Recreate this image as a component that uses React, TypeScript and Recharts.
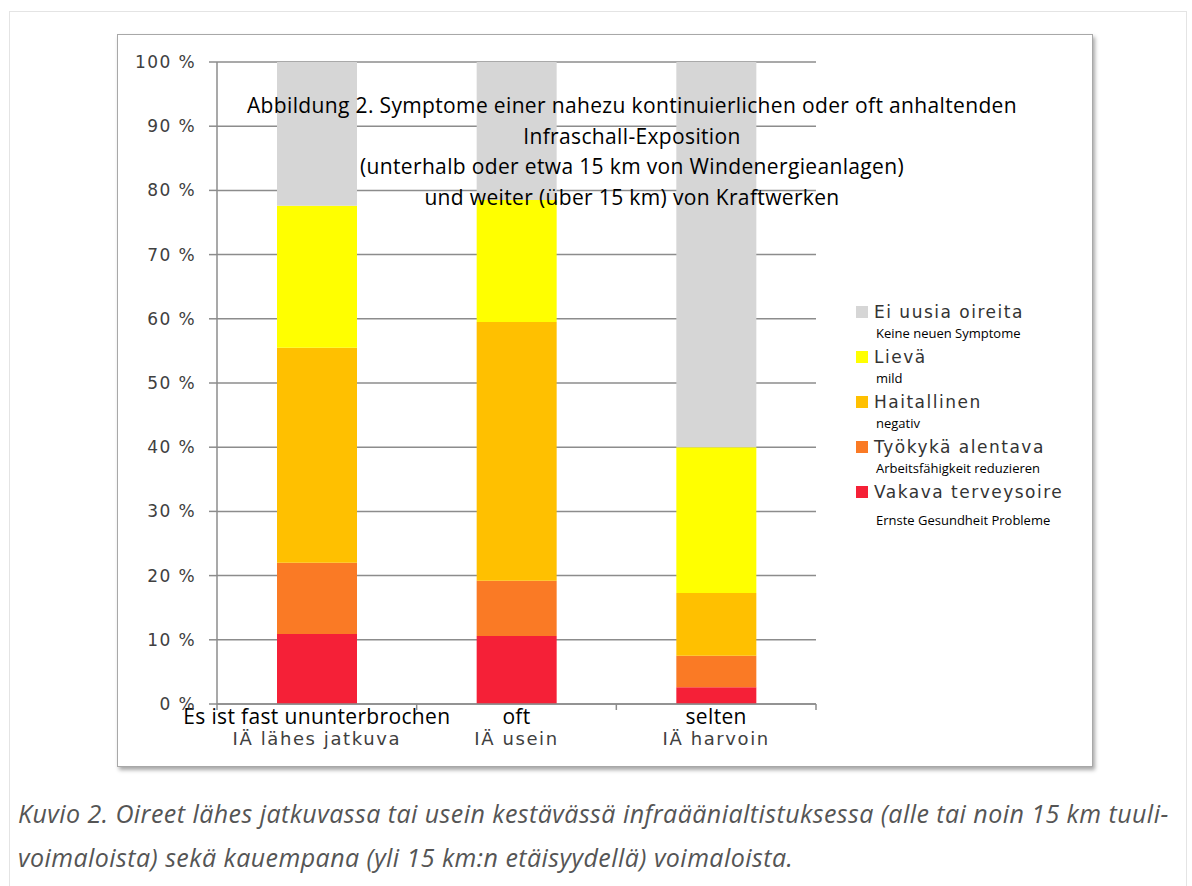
import { BarChart, Bar, XAxis, YAxis, CartesianGrid } from 'recharts';

// categories: German label (black) over the original Finnish label
const categoriesDe = ['Es ist fast ununterbrochen', 'oft', 'selten'];
const categoriesFi = ['IÄ lähes jatkuva', 'IÄ usein', 'IÄ harvoin'];

// shares in % (bottom to top of each stack)
const vakava = [10.9, 10.6, 2.6];
const tyokyky = [11.1, 8.6, 4.9];
const haitallinen = [33.5, 40.3, 9.8];
const lieva = [22.1, 19.0, 22.7];
const eiOireita = [22.4, 21.5, 60.0];

const seriesKeys = ['vakava', 'tyokyky', 'haitallinen', 'lieva', 'eiOireita'];
const seriesFi = ['Vakava terveysoire', 'Työkykä alentava', 'Haitallinen', 'Lievä', 'Ei uusia oireita'];
const seriesDe = ['Ernste Gesundheit Probleme', 'Arbeitsfähigkeit reduzieren', 'negativ', 'mild', 'Keine neuen Symptome'];
const seriesColors = ['#f52037', '#fa7a25', '#ffc000', '#ffff00', '#d6d6d6'];

const yTicks = [0, 10, 20, 30, 40, 50, 60, 70, 80, 90, 100];

const titleLines = [
   'Abbildung 2. Symptome einer nahezu kontinuierlichen oder oft anhaltenden',
   'Infraschall-Exposition',
   '(unterhalb oder etwa 15 km von Windenergieanlagen)',
   'und weiter (über 15 km) von Kraftwerken',
];

const captionLines = [
   'Kuvio 2. Oireet lähes jatkuvassa tai usein kestävässä infraäänialtistuksessa (alle tai noin 15 km tuuli-',
   'voimaloista) sekä kauempana (yli 15 km:n etäisyydellä) voimaloista.',
];

const seriesValues = [vakava, tyokyky, haitallinen, lieva, eiOireita];
const chartData = categoriesDe.map((c, i) => {
   const row: any = { name: c, fi: categoriesFi[i] };
   seriesKeys.forEach((k, s) => {
      row[k] = seriesValues[s][i];
   });
   return row;
});

const CHART_W = 974;
const CHART_H = 731;
const MARGIN = { top: 27, right: 276, bottom: 0, left: 0 };
const Y_W = 99;
const X_H = 62;
const BAND = (CHART_W - MARGIN.right - Y_W) / categoriesDe.length;

const XTick = (props: any) => {
   const { x, y, payload, index } = props;
   return (
      <g>
         <line x1={x - BAND / 2} x2={x - BAND / 2} y1={y} y2={y + 6} stroke="#8c8c8c" strokeWidth={1.5} />
         {index === categoriesDe.length - 1 && (
            <line x1={x + BAND / 2} x2={x + BAND / 2} y1={y} y2={y + 6} stroke="#8c8c8c" strokeWidth={1.5} />
         )}
         <text
            x={x}
            y={y + 20}
            textAnchor="middle"
            fontFamily="'Open Sans', sans-serif"
            fontSize={21}
            letterSpacing={0.35}
            fill="#000"
         >
            {payload.value}
         </text>
         <text
            x={x}
            y={y + 41}
            textAnchor="middle"
            fontFamily="'DejaVu Sans', sans-serif"
            fontSize={18}
            letterSpacing={1.6}
            fill="#404040"
         >
            {categoriesFi[index]}
         </text>
      </g>
   );
};

export default function App() {
   const legendOrder = [4, 3, 2, 1, 0];
   return (
      <div
         style={{
            position: 'absolute',
            left: 0,
            top: 0,
            width: 1192,
            height: 886,
            background: '#fff',
            overflow: 'hidden',
         }}
      >
         {/* page border */}
         <div
            style={{
               position: 'absolute',
               left: 9,
               top: 11,
               width: 1176,
               height: 900,
               border: '1px solid #e4e4e4',
            }}
         />

         {/* chart frame */}
         <div
            style={{
               position: 'absolute',
               left: 117,
               top: 34,
               width: CHART_W,
               height: CHART_H,
               border: '1px solid #a8a8a8',
               boxShadow: '2px 3px 4px rgba(0,0,0,0.35)',
               background: '#fff',
            }}
         >
            <BarChart width={CHART_W} height={CHART_H} data={chartData} margin={MARGIN} barSize={80}>
               <CartesianGrid vertical={false} stroke="#8c8c8c" strokeWidth={1.5} />
               <XAxis
                  dataKey="name"
                  height={X_H}
                  tickLine={false}
                  tickSize={0}
                  tickMargin={0}
                  axisLine={{ stroke: '#8c8c8c', strokeWidth: 1.5 }}
                  tick={<XTick />}
                  interval={0}
               />
               <YAxis
                  width={Y_W}
                  domain={[0, 100]}
                  ticks={yTicks}
                  interval={0}
                  tickSize={8}
                  tickMargin={13}
                  tickLine={{ stroke: '#8c8c8c', strokeWidth: 1.5 }}
                  axisLine={{ stroke: '#8c8c8c', strokeWidth: 1.5 }}
                  tickFormatter={(v: number) => `${v} %`}
                  tick={{
                     fontFamily: "'DejaVu Sans', sans-serif",
                     fontSize: 17,
                     letterSpacing: 1.4,
                     fill: '#404040',
                  }}
               />
               {seriesKeys.map((k, i) => (
                  <Bar key={k} dataKey={k} stackId="a" fill={seriesColors[i]} isAnimationActive={false} />
               ))}
            </BarChart>

            {/* title overlay */}
            <div
               style={{
                  position: 'absolute',
                  left: 631 - 117 - 450,
                  top: 55,
                  width: 900,
                  textAlign: 'center',
                  fontFamily: "'Open Sans', sans-serif",
                  fontSize: 21,
                  letterSpacing: 0.35,
                  lineHeight: '30.7px',
                  color: '#000',
                  pointerEvents: 'none',
               }}
            >
               {titleLines.map((t) => (
                  <div key={t}>{t}</div>
               ))}
            </div>

            {/* legend */}
            <div style={{ position: 'absolute', left: 855 - 117, top: 300 - 34 }}>
               {legendOrder.map((s, i) => (
                  <div key={seriesKeys[s]} style={{ height: 45 }}>
                     <div style={{ display: 'flex', alignItems: 'center', height: 22 }}>
                        <span
                           style={{
                              width: 12,
                              height: 12,
                              background: seriesColors[s],
                              marginRight: 6,
                              display: 'inline-block',
                           }}
                        />
                        <span
                           style={{
                              fontFamily: "'DejaVu Sans', sans-serif",
                              fontSize: 17,
                              letterSpacing: 1.5,
                              color: '#333',
                           }}
                        >
                           {seriesFi[s]}
                        </span>
                     </div>
                     <div
                        style={{
                           fontFamily: "'Open Sans', sans-serif",
                           fontSize: 13,
                           color: '#000',
                           marginLeft: 20,
                           marginTop: i === legendOrder.length - 1 ? 7 : 0,
                           lineHeight: '20px',
                        }}
                     >
                        {seriesDe[s]}
                     </div>
                  </div>
               ))}
            </div>
         </div>

         {/* caption */}
         <div
            style={{
               position: 'absolute',
               left: 18,
               top: 791,
               fontFamily: "'Open Sans', sans-serif",
               fontStyle: 'italic',
               fontSize: 25,
               letterSpacing: 0.45,
               lineHeight: '44px',
               color: '#555',
               whiteSpace: 'nowrap',
            }}
         >
            {captionLines.map((t) => (
               <div key={t}>{t}</div>
            ))}
         </div>
      </div>
   );
}
